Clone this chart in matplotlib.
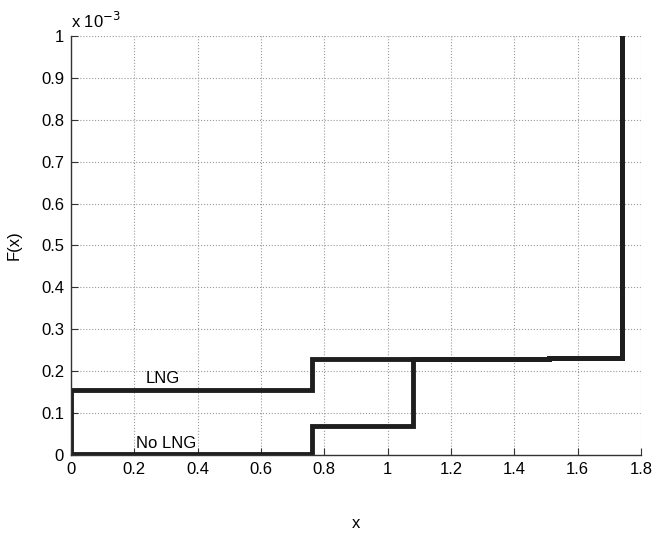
import numpy as np
import matplotlib.pyplot as plt

plt.rcParams['font.family'] = ['Liberation Sans', 'DejaVu Sans']

# step points (x where F jumps, F in units of 1e-3)
lng_x = [0, 0, 0.76, 1.51, 1.74]
lng_f = [0, 0.155, 0.228, 0.231, 1.0]
nolng_x = [0, 0.76, 1.08, 1.51, 1.74]
nolng_f = [0.003, 0.07, 0.228, 0.231, 1.0]

xticks = np.arange(0, 1.81, 0.2)
yticks = np.arange(0, 1.01, 0.1)

fig = plt.figure(figsize=(6.54, 5.36), dpi=100)
ax = fig.add_axes([0.1086, 0.151, 0.8714, 0.782])

line_col = '#1e1e1e'
ax.plot(lng_x, lng_f, drawstyle='steps-post', color=line_col, lw=3.5, solid_joinstyle='miter')
ax.plot(nolng_x, nolng_f, drawstyle='steps-post', color=line_col, lw=3.5, solid_joinstyle='miter')

ax.text(0.29, 0.164, 'LNG', fontsize=12, ha='center', va='bottom')
ax.text(0.30, 0.010, 'No LNG', fontsize=12, ha='center', va='bottom')

ax.set_xlim(0, 1.8)
ax.set_ylim(0, 1.0)
ax.set_xticks(xticks)
ax.set_yticks(yticks)
ax.set_xticklabels(['0', '0.2', '0.4', '0.6', '0.8', '1', '1.2', '1.4', '1.6', '1.8'])
ax.set_yticklabels(['0', '0.1', '0.2', '0.3', '0.4', '0.5', '0.6', '0.7', '0.8', '0.9', '1'])
ax.tick_params(direction='in', labelsize=12, length=5, color='#333333', pad=5)
ax.grid(True, linestyle=':', color='#999999', lw=0.8)

for s in ['top', 'right']:
    ax.spines[s].set_visible(False)
for s in ['left', 'bottom']:
    ax.spines[s].set_color('#333333')
    ax.spines[s].set_linewidth(1.0)

ax.set_xlabel('x', fontsize=12, labelpad=28)
ax.set_ylabel('F(x)', fontsize=12, labelpad=14)
ax.text(0.0, 1.012, 'x 10$^{-3}$', transform=ax.transAxes, fontsize=12, ha='left', va='bottom')

fig.savefig('out.png', dpi=100)
